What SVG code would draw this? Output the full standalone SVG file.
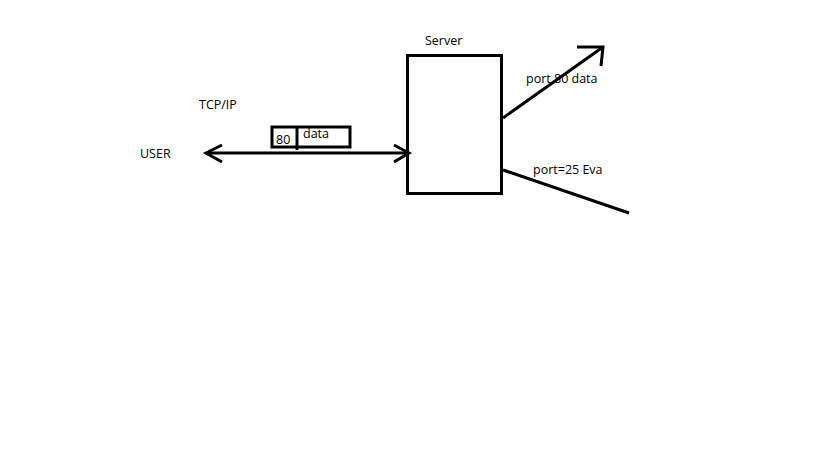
<svg xmlns="http://www.w3.org/2000/svg" width="819" height="460" viewBox="0 0 819 460">
<style>
text{font-family:"Open Sans","Liberation Sans",sans-serif;font-size:12.5px;fill:#000}
.s{stroke:#000;stroke-width:3;fill:none}
</style>
<rect width="819" height="460" fill="#fff"/>
<g id="user"><text x="140" y="158">USER</text></g>
<g id="tcpip"><text x="199" y="109">TCP/IP</text></g>
<g id="packet">
<rect class="s" x="272" y="127" width="78" height="20"/>
<line class="s" x1="297" y1="127" x2="297" y2="150"/>
<text x="276" y="144">80</text>
<text x="303" y="138">data</text>
</g>
<g id="server">
<rect class="s" x="407.5" y="55.5" width="94" height="138"/>
<text x="425" y="45">Server</text>
</g>
<g id="labels">
<text x="526" y="83">port 80 data</text>
<text x="533" y="174">port=25 Eva</text>
</g>
<g id="connectors" class="s">
<line x1="206" y1="153" x2="409" y2="153"/>
<polyline points="222,145 206,153 222,162"/>
<polyline points="394,145 409,153 394,162"/>
<line x1="503" y1="118" x2="603" y2="47"/>
<polyline points="577,47 603,47 601,66"/>
<line x1="503" y1="170" x2="629" y2="213"/>
</g>
</svg>
